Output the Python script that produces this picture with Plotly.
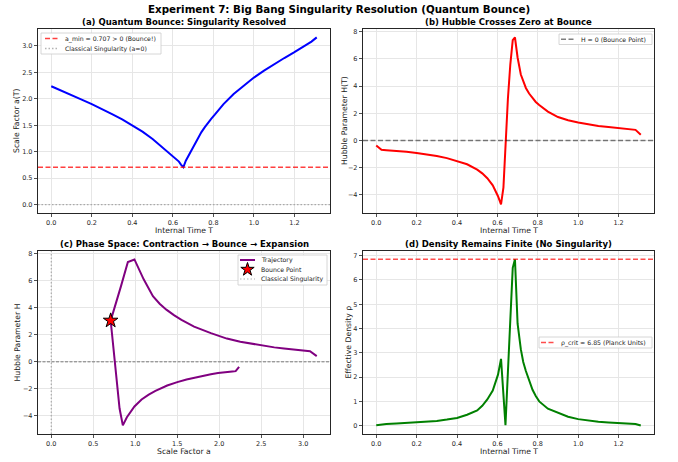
import plotly.graph_objects as go

# ---------------- data ----------------
T_vals = [0.000, 0.026, 0.050, 0.100, 0.150, 0.200, 0.250, 0.300, 0.350, 0.400,
          0.450, 0.500, 0.525, 0.550, 0.577, 0.603, 0.618, 0.630, 0.640, 0.652,
          0.664, 0.676, 0.687, 0.700, 0.716, 0.728, 0.741, 0.757, 0.774, 0.790,
          0.807, 0.850, 0.900, 0.950, 1.000, 1.050, 1.100, 1.150, 1.200, 1.250,
          1.284, 1.310]
a_vals = [2.236, 2.195, 2.155, 2.07, 1.985, 1.90, 1.81, 1.71, 1.61, 1.50,
          1.38, 1.24, 1.16, 1.075, 0.99, 0.90, 0.852, 0.813, 0.757, 0.707,
          0.83, 0.912, 0.99, 1.10, 1.21, 1.29, 1.37, 1.46, 1.55, 1.625,
          1.70, 1.90, 2.09, 2.25, 2.40, 2.53, 2.655, 2.77, 2.88, 2.99,
          3.08, 3.16]
H_vals = [-0.37, -0.69, -0.72, -0.76, -0.83, -0.92, -1.02, -1.15, -1.30, -1.50,
          -1.75, -2.15, -2.42, -2.78, -3.30, -4.10, -4.70, -3.45, 0.05, 3.05,
          5.60, 7.38, 7.57, 6.10, 4.85, 4.30, 3.86, 3.45, 3.11, 2.83,
          2.60, 2.12, 1.72, 1.48, 1.32, 1.18, 1.07, 0.99, 0.92, 0.85,
          0.78, 0.42]
rho_vals = [0.02, 0.06, 0.07, 0.09, 0.11, 0.13, 0.16, 0.19, 0.25, 0.32,
            0.45, 0.63, 0.82, 1.08, 1.45, 2.10, 2.75, 1.38, 0.02, 2.2,
            4.3, 6.5, 6.85, 4.2, 3.15, 2.62, 2.25, 1.85, 1.48, 1.22,
            1.0, 0.70, 0.52, 0.37, 0.27, 0.21, 0.16, 0.13, 0.11, 0.085,
            0.07, 0.01]
a_min = 0.707
bounce_a = [0.707]
bounce_H = [3.05]
rho_crit = 6.85

suptitle = "Experiment 7: Big Bang Singularity Resolution (Quantum Bounce)"
titles = ["(a) Quantum Bounce: Singularity Resolved",
          "(b) Hubble Crosses Zero at Bounce",
          "(c) Phase Space: Contraction \u2192 Bounce \u2192 Expansion",
          "(d) Density Remains Finite (No Singularity)"]
x_labels = ["Internal Time T", "Internal Time T", "Scale Factor a", "Internal Time T"]
y_labels = ["Scale Factor a(T)", "Hubble Parameter H(T)", "Hubble Parameter H", "Effective Density \u03c1"]
leg_a = ["a_min = 0.707 > 0 (Bounce!)", "Classical Singularity (a=0)"]
leg_b = ["H = 0 (Bounce Point)"]
leg_c = ["Trajectory", "Bounce Point", "Classical Singularity"]
leg_d = ["\u03c1_crit \u2248 6.85 (Planck Units)"]

# ---------------- layout geometry (pixels) ----------------
W, HGT = 678, 462
FONT = "DejaVu Sans"
L0, L1, R0, R1 = 38, 330, 363, 654
T0, T1, B0, B1 = 29, 213, 251, 434
dx_l = [L0 / W, L1 / W]
dx_r = [R0 / W, R1 / W]
dy_t = [1 - T1 / HGT, 1 - T0 / HGT]
dy_b = [1 - B1 / HGT, 1 - B0 / HGT]

xr_T = [-0.0655, 1.3755]
yr_a = [-0.158, 3.318]
yr_H = [-5.335, 8.195]
xr_a = [-0.158, 3.318]
yr_rho = [-0.3425, 7.1925]

RED_D = dict(color="rgba(255,0,0,0.75)", width=1.4, dash="5px,2.5px")
GRAY_DOT = dict(color="rgba(128,128,128,0.6)", width=1.4, dash="1.5px,2px")
BLACK_D = dict(color="rgba(0,0,0,0.5)", width=1.4, dash="5px,2.5px")

fig = go.Figure()

# (a)
fig.add_trace(go.Scatter(x=T_vals, y=a_vals, mode="lines", line=dict(color="#0000ff", width=2),
                         showlegend=False, xaxis="x", yaxis="y"))
fig.add_trace(go.Scatter(x=xr_T, y=[a_min, a_min], mode="lines", line=RED_D,
                         showlegend=False, xaxis="x", yaxis="y"))
fig.add_trace(go.Scatter(x=xr_T, y=[0, 0], mode="lines", line=GRAY_DOT,
                         showlegend=False, xaxis="x", yaxis="y"))
# (b)
fig.add_trace(go.Scatter(x=T_vals, y=H_vals, mode="lines", line=dict(color="#ff0000", width=2),
                         showlegend=False, xaxis="x2", yaxis="y2"))
fig.add_trace(go.Scatter(x=xr_T, y=[0, 0], mode="lines", line=BLACK_D,
                         showlegend=False, xaxis="x2", yaxis="y2"))
# (c)
fig.add_trace(go.Scatter(x=[0, 0], y=yr_H, mode="lines",
                         line=dict(color="rgba(128,128,128,0.6)", width=1.2, dash="1.5px,2px"),
                         showlegend=False, xaxis="x3", yaxis="y3"))
fig.add_trace(go.Scatter(x=xr_a, y=[0, 0], mode="lines",
                         line=dict(color="rgba(0,0,0,0.55)", width=0.9, dash="3px,1.5px"),
                         showlegend=False, xaxis="x3", yaxis="y3"))
fig.add_trace(go.Scatter(x=a_vals, y=H_vals, mode="lines", line=dict(color="#800080", width=2),
                         showlegend=False, xaxis="x3", yaxis="y3"))
fig.add_trace(go.Scatter(x=bounce_a, y=bounce_H, mode="markers",
                         marker=dict(symbol="star", size=11, color="#ff0000",
                                     line=dict(color="#000000", width=1)),
                         showlegend=False, xaxis="x3", yaxis="y3"))
# (d)
fig.add_trace(go.Scatter(x=T_vals, y=rho_vals, mode="lines", line=dict(color="#008000", width=2),
                         showlegend=False, xaxis="x4", yaxis="y4"))
fig.add_trace(go.Scatter(x=xr_T, y=[rho_crit, rho_crit], mode="lines",
                         line=dict(color="rgba(255,0,0,0.7)", width=1.4, dash="5px,2.5px"),
                         showlegend=False, xaxis="x4", yaxis="y4"))

annotations = []


def txt(text, x, y, size=6.2, xanchor="left", yanchor="middle", bold=False, angle=0, color="#1a1a1a"):
    annotations.append(dict(text=("<b>" + text + "</b>") if bold else text, x=x, y=y,
                            xref="x5", yref="y5", xanchor=xanchor, yanchor=yanchor,
                            showarrow=False, textangle=angle,
                            font=dict(family=FONT, size=size, color=color)))


# ------------- hand-drawn legends (pixel helper axis x5/y5) -------------
def leg_box(x0, y0, x1, y1):
    fig.add_trace(go.Scatter(x=[x0, x1, x1, x0, x0], y=[y0, y0, y1, y1, y0], mode="lines",
                             fill="toself", fillcolor="rgba(255,255,255,0.9)",
                             line=dict(color="#cccccc", width=0.8),
                             showlegend=False, hoverinfo="skip", xaxis="x5", yaxis="y5"))


def leg_line(x0, x1, y, style):
    fig.add_trace(go.Scatter(x=[x0, x1], y=[y, y], mode="lines", line=style,
                             showlegend=False, hoverinfo="skip", xaxis="x5", yaxis="y5"))


# (a)
leg_box(41, 33, 161, 54)
leg_line(45, 59, 38.5, RED_D)
leg_line(45, 59, 48.5, GRAY_DOT)
txt(leg_a[0], 63, 38.5)
txt(leg_a[1], 63, 48.5)
# (b)
leg_box(559, 34, 652, 44.5)
leg_line(561, 575, 39.2, BLACK_D)
txt(leg_b[0], 579, 39.2)
# (c)
leg_box(238, 255, 327, 285)
leg_line(240, 255, 260, dict(color="#800080", width=2))
fig.add_trace(go.Scatter(x=[247.5], y=[269.5], mode="markers",
                         marker=dict(symbol="star", size=10, color="#ff0000",
                                     line=dict(color="#000000", width=1)),
                         showlegend=False, hoverinfo="skip", xaxis="x5", yaxis="y5"))
leg_line(240, 255, 279, dict(color="rgba(128,128,128,0.6)", width=1.2, dash="1.5px,2px"))
txt(leg_c[0], 259, 260)
txt(leg_c[1], 259, 269.5)
txt(leg_c[2], 259, 279)
# (d)
leg_box(539, 337, 652, 348)
leg_line(541, 555, 342.5, dict(color="rgba(255,0,0,0.7)", width=1.4, dash="5px,2.5px"))
txt(leg_d[0], 559, 342.5)

# ------------- titles and axis labels -------------
txt(suptitle, W / 2, 9, size=10.3, xanchor="center", bold=True, color="#000000")
for t, (xa, xb), ytop in zip(titles, [(L0, L1), (R0, R1), (L0, L1), (R0, R1)], [T0, T0, B0, B0]):
    txt(t, (xa + xb) / 2, ytop - 7, size=8.5, xanchor="center", bold=True, color="#000000")
for t, (xa, xb), ybot in zip(x_labels, [(L0, L1), (R0, R1), (L0, L1), (R0, R1)], [T1, T1, B1, B1]):
    txt(t, (xa + xb) / 2, ybot + 17, size=7.7, xanchor="center")
for t, xc, (ya, yb) in zip(y_labels, [16, 344, 17, 348], [(T0, T1), (T0, T1), (B0, B1), (B0, B1)]):
    txt(t, xc, (ya + yb) / 2, size=7.7, xanchor="center", angle=-90)


def ax(domain, rng, tickvals, anchor, fmt=None):
    d = dict(domain=domain, range=rng, tickvals=tickvals, anchor=anchor,
             showline=True, mirror=True, linecolor="#262626", linewidth=1.2,
             ticks="outside", ticklen=3, tickwidth=0.8, tickcolor="#262626",
             showgrid=True, gridcolor="#e6e6e6", gridwidth=1, zeroline=False,
             tickfont=dict(family=FONT, size=6.5, color="#262626"))
    if fmt:
        d["tickformat"] = fmt
    return d


T_ticks = [0.0, 0.2, 0.4, 0.6, 0.8, 1.0, 1.2]
H_ticks = [-4, -2, 0, 2, 4, 6, 8]

fig.update_layout(
    width=W, height=HGT, margin=dict(l=0, r=0, t=0, b=0),
    paper_bgcolor="white", plot_bgcolor="rgba(0,0,0,0)", showlegend=False,
    font=dict(family=FONT, color="#1a1a1a"),
    xaxis=ax(dx_l, xr_T, T_ticks, "y", ".1f"),
    yaxis=ax(dy_t, yr_a, [0, 0.5, 1.0, 1.5, 2.0, 2.5, 3.0], "x", ".1f"),
    xaxis2=ax(dx_r, xr_T, T_ticks, "y2", ".1f"),
    yaxis2=ax(dy_t, yr_H, H_ticks, "x2"),
    xaxis3=ax(dx_l, xr_a, [0, 0.5, 1.0, 1.5, 2.0, 2.5, 3.0], "y3", ".1f"),
    yaxis3=ax(dy_b, yr_H, H_ticks, "x3"),
    xaxis4=ax(dx_r, xr_T, T_ticks, "y4", ".1f"),
    yaxis4=ax(dy_b, yr_rho, [0, 1, 2, 3, 4, 5, 6, 7], "x4"),
    xaxis5=dict(domain=[0, 1], range=[0, W], visible=False, fixedrange=True, anchor="y5"),
    yaxis5=dict(domain=[0, 1], range=[HGT, 0], visible=False, fixedrange=True, anchor="x5"),
    annotations=annotations,
)
fig.write_html("out.html", config={"displayModeBar": False, "staticPlot": True},
               post_script="document.body.style.margin='0';document.body.style.padding='0';"
                           "document.documentElement.style.overflow='hidden';")
